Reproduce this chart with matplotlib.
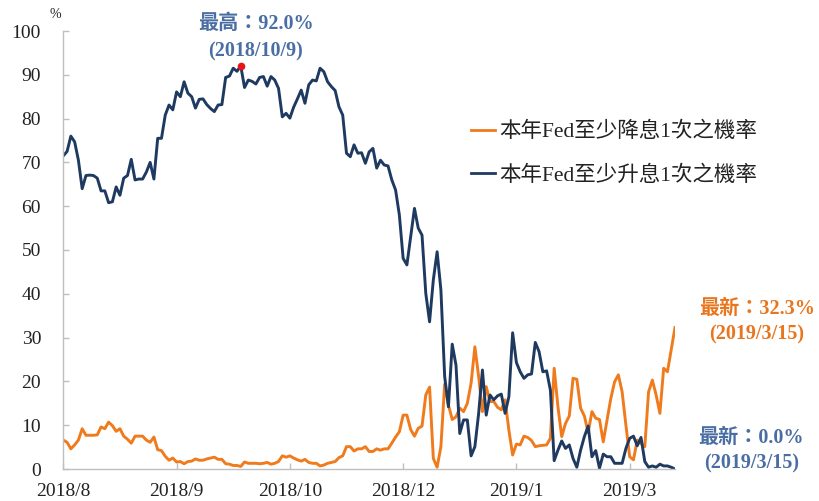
import matplotlib
matplotlib.use("Agg")
import matplotlib.pyplot as plt
import numpy as np

# ---------------- data ----------------
tick_labels = ["2018/8", "2018/9", "2018/10", "2018/12", "2019/1", "2019/3"]
tick_step = 30  # trading days between labelled ticks

series_names = ["本年Fed至少降息1次之機率", "本年Fed至少升息1次之機率"]

cut_prob = [
    6.6, 6.1, 4.6, 5.5, 6.6, 9.2, 7.7, 7.7, 7.7, 7.8,
    9.6, 9.2, 10.7, 9.9, 8.6, 9.2, 7.5, 6.8, 5.9, 7.5,
    7.5, 7.5, 6.6, 6.1, 7.3, 4.4, 4.2, 2.9, 2.0, 2.5,
    1.6, 1.7, 1.2, 1.7, 1.8, 2.3, 2.0, 2.0, 2.3, 2.5,
    2.7, 2.2, 2.2, 1.2, 1.1, 0.8, 0.8, 0.6, 1.6, 1.3,
    1.3, 1.3, 1.2, 1.3, 1.5, 1.1, 1.3, 1.7, 3.0, 2.7,
    3.0, 2.5, 2.1, 1.8, 2.2, 1.5, 1.3, 1.3, 0.7, 0.9,
    1.3, 1.5, 1.7, 2.6, 3.0, 5.1, 5.1, 4.1, 4.6, 4.6,
    5.1, 4.0, 4.0, 4.6, 4.3, 4.6, 4.6, 5.9, 7.3, 8.5,
    12.3, 12.3, 9.0, 7.5, 9.3, 9.8, 16.9, 18.7, 2.4, 0.4,
    5.1, 19.4, 14.6, 11.3, 11.9, 13.9, 13.1, 15.0, 19.6, 27.9,
    21.1, 13.1, 18.8, 15.4, 15.4, 14.1, 13.5, 15.8, 8.9, 3.2,
    5.7, 5.5, 7.5, 7.2, 6.5, 5.1, 5.3, 5.4, 5.5, 7.0,
    23.0, 14.2, 7.4, 10.4, 12.1, 20.7, 20.5, 13.9, 12.1, 8.3,
    13.1, 11.6, 11.3, 6.2, 11.2, 16.1, 19.9, 21.5, 17.6, 10.0,
    2.8, 2.1, 6.6, 5.8, 5.1, 17.6, 20.3, 16.9, 12.7, 23.0,
    22.2, 27.3, 32.3,
]

hike_prob = [
    71.5, 72.5, 76.0, 74.7, 70.5, 64.0, 67.0, 67.1, 67.0, 66.4,
    63.5, 63.5, 60.8, 61.0, 64.4, 62.5, 66.4, 67.0, 70.7, 66.0,
    66.2, 66.2, 67.8, 70.0, 66.2, 75.5, 75.5, 80.8, 83.1, 82.0,
    86.1, 85.0, 88.4, 85.8, 85.0, 82.4, 84.4, 84.5, 83.2, 82.3,
    81.6, 83.1, 83.2, 89.4, 89.7, 91.5, 90.8, 92.0, 87.1, 88.8,
    88.5, 87.9, 89.4, 89.6, 87.4, 89.6, 88.8, 86.9, 80.4, 81.2,
    80.1, 82.6, 84.5, 86.5, 83.5, 87.7, 88.8, 88.6, 91.5, 90.7,
    88.4, 87.3, 86.4, 82.7, 80.8, 72.1, 71.3, 74.0, 72.1, 72.2,
    69.8, 72.4, 73.2, 68.7, 70.5, 69.4, 69.2, 66.0, 63.7, 58.0,
    48.1, 46.6, 53.0, 59.5, 55.0, 53.4, 40.1, 33.6, 43.2, 49.6,
    40.9, 21.1, 14.2, 28.5, 23.7, 8.1, 11.2, 11.2, 3.0, 5.1,
    12.7, 22.6, 12.3, 16.9, 15.8, 16.7, 17.1, 12.7, 16.5, 31.1,
    24.3, 22.2, 20.7, 21.5, 21.7, 28.9, 26.8, 22.2, 22.4, 18.0,
    1.9, 4.3, 6.4, 4.7, 5.5, 2.4, 0.4, 4.3, 7.4, 9.8,
    2.8, 4.2, 0.2, 3.4, 2.8, 2.8, 1.3, 1.3, 1.3, 4.7,
    7.0, 7.5, 5.3, 7.2, 1.7, 0.4, 0.7, 0.4, 1.1, 0.7,
    0.7, 0.4, 0.0,
]

peak_text = ["最高：92.0%", "(2018/10/9)"]
cut_text = ["最新：32.3%", "(2019/3/15)"]
hike_text = ["最新：0.0%", "(2019/3/15)"]

# ---------------- style ----------------
plt.rcParams["font.family"] = ["Liberation Serif", "Noto Sans CJK TC", "DejaVu Sans"]
ORANGE = "#ef7b1d"
NAVY = "#1f3a60"
ANN_BLUE = "#4a6ea3"
ANN_ORANGE = "#e8761e"
GRAY = "#bfbfbf"

W, H = 820, 501
fig = plt.figure(figsize=(W / 100, H / 100), dpi=100)
ax_left, ax_right, ax_top, ax_bottom = 63.3, 675.0, 31.0, 469.0
ax = fig.add_axes([ax_left / W, 1 - ax_bottom / H,
                   (ax_right - ax_left) / W, (ax_bottom - ax_top) / H])

x = np.arange(len(cut_prob))
l1, = ax.plot(x, cut_prob, color=ORANGE, lw=2.1, solid_joinstyle="round")
l2, = ax.plot(x, hike_prob, color=NAVY, lw=2.1, solid_joinstyle="round")

pk = int(np.argmax(hike_prob))
ax.plot([x[pk]], [hike_prob[pk]], "o", color="#e8141c", ms=4.5, zorder=5)

ax.set_xlim(0, len(cut_prob) - 1)
ax.set_ylim(0, 100)
ax.set_yticks(np.arange(0, 101, 10))
ax.set_xticks(np.arange(len(tick_labels)) * tick_step)
ax.set_xticklabels(tick_labels)

for s in ["top", "right"]:
    ax.spines[s].set_visible(False)
for s in ["left", "bottom"]:
    ax.spines[s].set_color(GRAY)
    ax.spines[s].set_linewidth(1.0)

ax.tick_params(axis="y", direction="in", length=4, color=GRAY, width=1.0,
               labelsize=14, pad=16, labelcolor="#222222")
ax.tick_params(axis="x", direction="in", length=4.5, color=GRAY, width=1.0,
               labelsize=14, pad=10, labelcolor="#222222")

fig.text(55 / W, 1 - 15 / H, "%", ha="center", va="center", fontsize=10, color="#222222")

def px(xp, yp):
    return xp / W, 1 - yp / H

ANN_FS = 14.5
fig.text(*px(256, 24), peak_text[0], ha="center", va="center", fontsize=ANN_FS,
         fontweight="bold", color=ANN_BLUE)
fig.text(*px(256, 51), peak_text[1], ha="center", va="center", fontsize=ANN_FS,
         fontweight="bold", color=ANN_BLUE)

fig.text(*px(757, 309), cut_text[0], ha="center", va="center", fontsize=ANN_FS,
         fontweight="bold", color=ANN_ORANGE)
fig.text(*px(757, 334), cut_text[1], ha="center", va="center", fontsize=ANN_FS,
         fontweight="bold", color=ANN_ORANGE)

fig.text(*px(751, 438), hike_text[0], ha="center", va="center", fontsize=ANN_FS,
         fontweight="bold", color=ANN_BLUE)
fig.text(*px(752, 463), hike_text[1], ha="center", va="center", fontsize=ANN_FS,
         fontweight="bold", color=ANN_BLUE)

leg = fig.legend([l1, l2], series_names, loc="upper left",
                 bbox_to_anchor=(471 / W, 1 - 122 / H), frameon=False,
                 fontsize=15.5, handlelength=1.1, handletextpad=0.2,
                 labelspacing=1.05, borderpad=0, borderaxespad=0)
for t in leg.get_texts():
    t.set_color("#222222")
for h in leg.get_lines():
    h.set_linewidth(2.0)

fig.savefig("out.png", dpi=100)
